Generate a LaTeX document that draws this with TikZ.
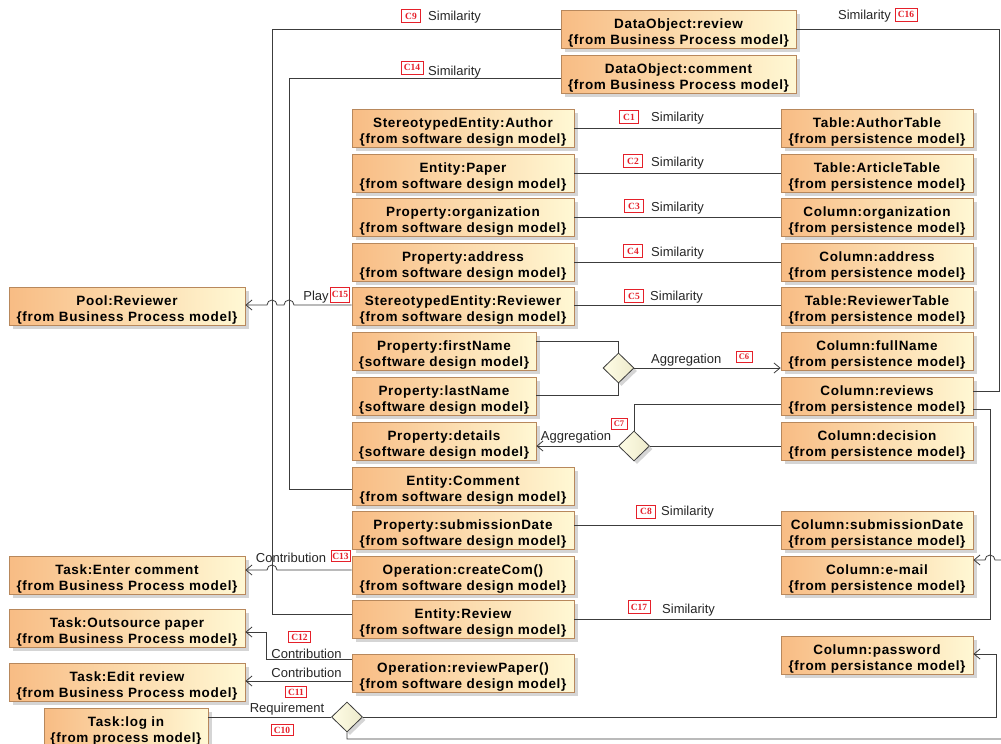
\documentclass[tikz,border=0pt]{standalone}
\usepackage{fontspec}
\setmainfont{Liberation Sans}
\newfontfamily\boxfont{Liberation Sans}[LetterSpace=5]
\newfontfamily\codefont{Liberation Serif}
\usetikzlibrary{shapes.geometric,arrows.meta,shadows}
\definecolor{boxL}{HTML}{F8BC84}
\definecolor{boxR}{HTML}{FFF8D4}
\definecolor{boxB}{HTML}{B8885C}
\definecolor{lineC}{HTML}{3C3C3C}
\definecolor{codeR}{HTML}{E5202A}
\definecolor{diaL}{HTML}{FFFDE6}
\definecolor{diaR}{HTML}{EDEACB}
\newcommand\bxt[2]{\rule{0pt}{17pt}#1\\\{#2\}}
\begin{document}
\begin{tikzpicture}[x=1pt,y=-1pt,
  box/.style={draw=boxB, line width=0.8pt, left color=boxL, right color=boxR,
    minimum height=38pt, inner sep=0pt, align=center,
    font=\boxfont\bfseries\fontsize{13.5}{16}\selectfont,
    drop shadow={shadow xshift=3.5pt,shadow yshift=-3.5pt,fill=black!32}},
  conn/.style={draw=lineC, line width=0.8pt},
  arr/.style={conn, -{Straight Barb[length=6pt,width=10pt]}},
  lbl/.style={font=\fontsize{13}{14}\selectfont, inner sep=0pt, text=black!85, yshift=-1.5pt},
  code/.style={draw=codeR, fill=white, text=codeR, font=\codefont\bfseries\fontsize{9.5}{9.5}\selectfont,
    inner sep=0.3pt, minimum width=19pt, minimum height=13pt, line width=0.7pt},
  codes/.style={code, minimum width=16pt, minimum height=11pt, font=\codefont\bfseries\fontsize{8.5}{8.5}\selectfont},
  dia/.style={diamond, draw=lineC, left color=diaL, right color=diaR, minimum width=31pt,
    minimum height=30pt, inner sep=0pt, line width=0.8pt,
    drop shadow={shadow xshift=3pt,shadow yshift=-3pt,fill=black!32}}]
\clip (0,0) rectangle (1001,744);
\fill[white] (0,0) rectangle (1001,744);

% ---- boxes: top
\node[box, minimum width=235pt] (dor) at (678.5,29) {\bxt{DataObject:review}{from Business Process model}};
\node[box, minimum width=235pt] (doc) at (678.5,74) {\bxt{DataObject:comment}{from Business Process model}};

% ---- middle column
\node[box, minimum width=222pt] (auth) at (463,128) {\bxt{StereotypedEntity:Author}{from software design model}};
\node[box, minimum width=222pt] (paper) at (463,173) {\bxt{Entity:Paper}{from software design model}};
\node[box, minimum width=222pt] (org) at (463,217) {\bxt{Property:organization}{from software design model}};
\node[box, minimum width=222pt] (addr) at (463,262) {\bxt{Property:address}{from software design model}};
\node[box, minimum width=222pt] (srev) at (463,306) {\bxt{StereotypedEntity:Reviewer}{from software design model}};
\node[box, minimum width=184pt] (first) at (444,351) {\bxt{Property:firstName}{software design model}};
\node[box, minimum width=184pt] (last) at (444,396) {\bxt{Property:lastName}{software design model}};
\node[box, minimum width=184pt] (det) at (444,441) {\bxt{Property:details}{software design model}};
\node[box, minimum width=222pt] (comm) at (463,486) {\bxt{Entity:Comment}{from software design model}};
\node[box, minimum width=222pt] (subm) at (463,530.5) {\bxt{Property:submissionDate}{from software design model}};
\node[box, minimum width=222pt] (ccom) at (463,575.5) {\bxt{Operation:createCom()}{from software design model}};
\node[box, minimum width=222pt] (erev) at (463,619.5) {\bxt{Entity:Review}{from software design model}};
\node[box, minimum width=222pt] (oprev) at (463,673.5) {\bxt{Operation:reviewPaper()}{from software design model}};

% ---- right column
\node[box, minimum width=192pt] (atab) at (877,128) {\bxt{Table:AuthorTable}{from persistence model}};
\node[box, minimum width=192pt] (arttab) at (877,173) {\bxt{Table:ArticleTable}{from persistence model}};
\node[box, minimum width=192pt] (corg) at (877,217) {\bxt{Column:organization}{from persistence model}};
\node[box, minimum width=192pt] (caddr) at (877,262) {\bxt{Column:address}{from persistence model}};
\node[box, minimum width=192pt] (rtab) at (877,306) {\bxt{Table:ReviewerTable}{from persistence model}};
\node[box, minimum width=192pt] (cfull) at (877,351) {\bxt{Column:fullName}{from persistence model}};
\node[box, minimum width=192pt] (crev) at (877,396) {\bxt{Column:reviews}{from persistence model}};
\node[box, minimum width=192pt] (cdec) at (877,441) {\bxt{Column:decision}{from persistence model}};
\node[box, minimum width=192pt] (csub) at (877,530) {\bxt{Column:submissionDate}{from persistance model}};
\node[box, minimum width=192pt] (cmail) at (877,575) {\bxt{Column:e-mail}{from persistence model}};
\node[box, minimum width=192pt] (cpass) at (877,655) {\bxt{Column:password}{from persistance model}};

% ---- left column
\node[box, minimum width=236pt] (pool) at (127,306) {\bxt{Pool:Reviewer}{from Business Process model}};
\node[box, minimum width=236pt] (tenter) at (127,575) {\bxt{Task:Enter comment}{from Business Process model}};
\node[box, minimum width=236pt] (tout) at (127,628.5) {\bxt{Task:Outsource paper}{from Business Process model}};
\node[box, minimum width=236pt] (tedit) at (127,682) {\bxt{Task:Edit review}{from Business Process model}};
\node[box, minimum width=164pt] (tlogin) at (126,727) {\bxt{Task:log in}{from process model}};

% ---- diamonds
\node[dia] (d1) at (618.5,368) {};
\node[dia] (d2) at (634,446) {};
\node[dia] (d3) at (347,717) {};

% ---- connectors
% C9
\draw[conn] (dor.west) -| (272,614) -- (erev.west |- 0,614);
% C14
\draw[conn] (doc.west |- 0,78) -| (289,489) -- (comm.west |- 0,489);
% C16
\draw[conn] (dor.east) -| (999,391) -- (crev.east |- 0,391);
% C17
\draw[conn] (crev.east |- 0,409) -| (990,619) -- (erev.east |- 0,619);
% C1-C5
\draw[conn] (auth.east) -- (atab.west);
\draw[conn] (paper.east) -- (arttab.west);
\draw[conn] (org.east) -- (corg.west);
\draw[conn] (addr.east) -- (caddr.west);
\draw[conn] (srev.east |- 0,305) -- (rtab.west |- 0,305);
% C15
\draw[arr] (srev.west |- 0,305) -- (294,305) arc[start angle=0,end angle=180,radius=5pt]
  -- (277,305) arc[start angle=0,end angle=180,radius=5pt] -- (pool.east |- 0,305);
% C6
\draw[conn] (first.east |- 0,341) -| (d1.north);
\draw[conn] (last.east |- 0,395) -| (d1.south);
\draw[arr] (d1.east) -- (cfull.west |- d1.east);
% C7
\draw[conn] (crev.west |- 0,404) -| (d2.north);
\draw[conn] (cdec.west |- d2.east) -- (d2.east);
\draw[arr] (d2.west) -- (det.east |- d2.west);
% C8
\draw[conn] (subm.east |- 0,525) -- (csub.west |- 0,525);
% C13
\draw[arr] (ccom.west |- 0,570) -- (277,570) arc[start angle=0,end angle=180,radius=5pt]
  -- (tenter.east |- 0,570);
% C12
\draw[arr] (oprev.west |- 0,659) -| (266,632) -- (tout.east |- 0,632);
% C11
\draw[arr] (oprev.west |- 0,681) -- (tedit.east |- 0,681);
% C10
\draw[conn] (tlogin.east |- d3.west) -- (d3.west);
\draw[arr] (d3.east) -| (996,654) -- (cpass.east |- 0,654);
\draw[arr] (d3.south) |- (1008,739) -- (1008,560) -- (995,560)
  arc[start angle=0,end angle=180,radius=5pt] -- (cmail.east |- 0,560);

% ---- labels
\node[code] (k9) at (411,16) {C9};
\node[lbl, anchor=west] (l9) at (428,16) {Similarity};
\node[code, minimum width=22pt] (k14) at (412,67.5) {C14};
\node[lbl, anchor=west] (l14) at (428,71) {Similarity};
\node[lbl, anchor=east] (l16) at (891,15) {Similarity};
\node[code, minimum width=22pt] (k16) at (906,14.5) {C16};
\node[code] (k1) at (629,117) {C1};
\node[lbl, anchor=west] (l1) at (651,117) {Similarity};
\node[code] (k2) at (633,161) {C2};
\node[lbl, anchor=west] (l2) at (651,162) {Similarity};
\node[code] (k3) at (634,206) {C3};
\node[lbl, anchor=west] (l3) at (651,207) {Similarity};
\node[code] (k4) at (633,251) {C4};
\node[lbl, anchor=west] (l4) at (651,252) {Similarity};
\node[code] (k5) at (634,296) {C5};
\node[lbl, anchor=west] (l5) at (650,296) {Similarity};
\node[lbl, anchor=west] (l6) at (651,359) {Aggregation};
\node[codes] (k6) at (744,357) {C6};
\node[codes] (k7) at (619,424) {C7};
\node[lbl] (l7) at (576,436) {Aggregation};
\node[code] (k8) at (646,511.5) {C8};
\node[lbl, anchor=west] (l8) at (661,511) {Similarity};
\node[code, minimum width=22pt] (k17) at (639,607) {C17};
\node[lbl, anchor=west] (l17) at (662,609) {Similarity};
\node[lbl] (l15) at (316,296) {Play};
\node[code, minimum width=19pt, minimum height=15pt] (k15) at (340,294.5) {C15};
\node[lbl] (l13) at (291,556) {Contribution};
\node[code, minimum width=19pt, minimum height=11pt] (k13) at (340.5,556) {C13};
\node[code, minimum width=22pt, minimum height=11pt] (k12) at (299.5,637) {C12};
\node[lbl] (l12) at (306.5,652) {Contribution};
\node[lbl] (l11) at (306.5,671) {Contribution};
\node[code, minimum width=21pt, minimum height=11pt] (k11) at (296,692) {C11};
\node[lbl] (l10) at (287,708) {Requirement};
\node[code, minimum width=22pt, minimum height=11pt] (k10) at (282,730) {C10};
\end{tikzpicture}
\end{document}
